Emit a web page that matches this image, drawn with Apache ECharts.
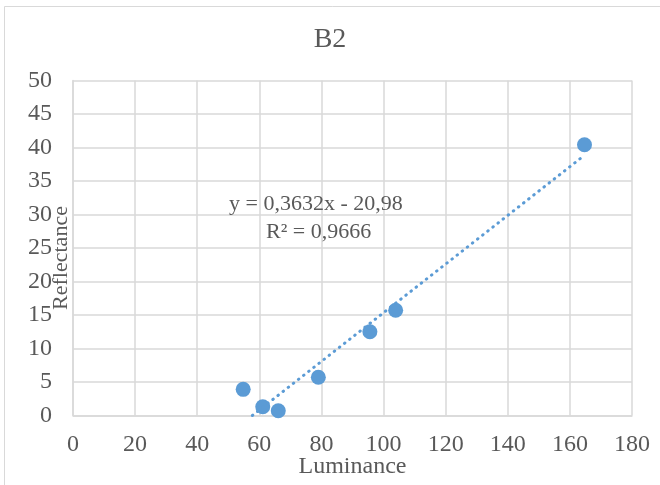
<!DOCTYPE html>
<html>
<head>
<meta charset="utf-8">
<script src="https://cdn.jsdelivr.net/npm/echarts@6/dist/echarts.min.js"></script>
<style>html,body{margin:0;padding:0;background:#fff;}#c{width:660px;height:485px;}</style>
</head>
<body>
<div id="c"></div>
<script>
const chartTitle = 'B2';
const xAxisName = 'Luminance';
const yAxisName = 'Reflectance';
const luminance = [54.8, 61.1, 66.1, 79.0, 95.6, 103.9, 164.7];
const reflectance = [3.9, 1.3, 0.7, 5.7, 12.5, 15.7, 40.4];
const trendSlope = 0.3632;
const trendIntercept = -20.98;
const trendR2 = 0.9666;
const xMin = 0, xMax = 180, xStep = 20;
const yMin = 0, yMax = 50, yStep = 5;

const points = luminance.map((x, i) => [x, reflectance[i]]);
const lo = Math.max(Math.min(...luminance), (yMin - trendIntercept) / trendSlope);
const hi = Math.max(...luminance);
const trend = [lo, hi].map(x => [x, trendSlope * x + trendIntercept]);

const fmt = v => String(v).replace('.', ',');
const eqLine1 = 'y = ' + fmt(trendSlope) + 'x - ' + fmt(Math.abs(trendIntercept));
const eqLine2 = 'R² = ' + fmt(trendR2);

const FONT = '"Liberation Serif", "Times New Roman", serif';
const TXT = '#595959';
const GRID = '#d9d9d9';
const BLUE = '#5b9bd5';

const chart = echarts.init(document.getElementById('c'));
chart.setOption({
  animation: false,
  backgroundColor: '#fff',
  title: {
    text: chartTitle, left: 'center', top: 21,
    textStyle: { fontFamily: FONT, fontSize: 28, fontWeight: 'normal', color: TXT }
  },
  grid: { left: 73, right: 28, top: 80.5, bottom: 69.5, containLabel: false, outerBoundsMode: 'none' },
  xAxis: {
    type: 'value', min: xMin, max: xMax, interval: xStep,
    name: xAxisName, nameLocation: 'middle', nameGap: 39, nameMoveOverlap: false,
    nameTextStyle: { fontFamily: FONT, fontSize: 24, color: TXT },
    axisLine: { show: true, lineStyle: { color: GRID, width: 1.5 } },
    axisTick: { show: false },
    axisLabel: { fontFamily: FONT, fontSize: 24, color: TXT, margin: 17 },
    splitLine: { show: true, lineStyle: { color: GRID, width: 1.5 } }
  },
  yAxis: {
    type: 'value', min: yMin, max: yMax, interval: yStep,
    name: yAxisName, nameLocation: 'middle', nameGap: 12, nameRotate: 90, nameMoveOverlap: false,
    nameTextStyle: { fontFamily: FONT, fontSize: 22, color: TXT, verticalAlign: 'middle', padding: [0, 20, 0, 0] },
    axisLine: { show: true, lineStyle: { color: GRID, width: 1.5 } },
    axisTick: { show: false },
    axisLabel: { fontFamily: FONT, fontSize: 24, color: TXT, margin: 21 },
    splitLine: { show: true, lineStyle: { color: GRID, width: 1.5 } }
  },
  graphic: [
    { type: 'rect', shape: { x: 4.5, y: 6.5, width: 800, height: 800 }, style: { fill: 'none', stroke: '#d9d9d9', lineWidth: 1 }, z: -10, silent: true },
    { type: 'text', left: 229, top: 193, style: { text: eqLine1, font: '22px ' + FONT, fill: TXT }, z: 100 },
    { type: 'text', left: 266, top: 221, style: { text: eqLine2, font: '22px ' + FONT, fill: TXT }, z: 100 }
  ],
  series: [
    {
      type: 'scatter', data: points, symbol: 'circle', symbolSize: 15,
      itemStyle: { color: BLUE, opacity: 1 }, z: 2
    },
    {
      type: 'line', data: trend, symbol: 'none', silent: true,
      lineStyle: { color: BLUE, width: 3, type: [0.5, 6], cap: 'round', opacity: 1 }, z: 3
    }
  ]
});
</script>
</body>
</html>
